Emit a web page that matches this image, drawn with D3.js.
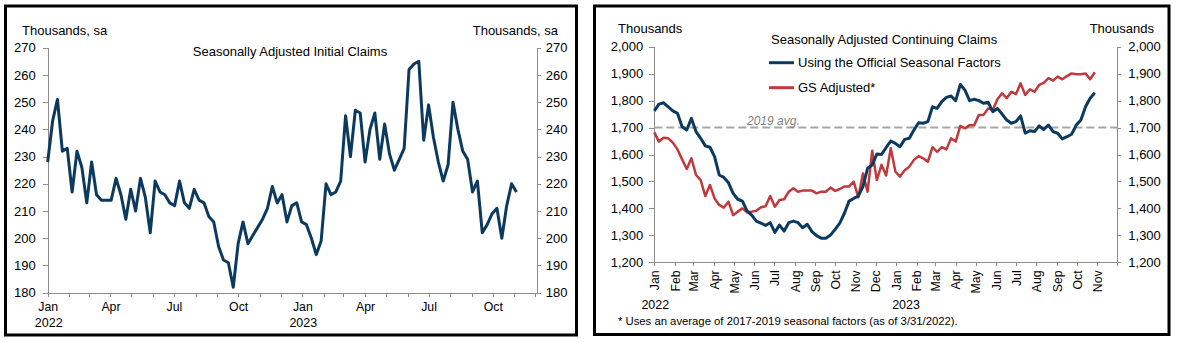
<!DOCTYPE html>
<html>
<head>
<meta charset="utf-8">
<script src="https://cdn.jsdelivr.net/npm/d3@7/dist/d3.min.js"></script>
<style>
  body { margin: 0; background: #fff; }
  svg { display: block; font-family: "Liberation Sans", Arial, sans-serif; }
  .axis path, .axis line { stroke: #8c8c8c; shape-rendering: crispEdges; }
  .axis text { font-size: 13px; fill: #000; font-family: "Liberation Sans", Arial, sans-serif; }
  .x-axis text { font-size: 12.3px; }
  .label { font-size: 13px; fill: #000; }
  .year { font-size: 12.5px; fill: #000; }
</style>
</head>
<body>
<div id="chart"></div>
<script>
(function () {

  // first week in both series (week ending Sat Jan 1, 2022)
  var firstWeek = new Date(2022, 0, 1)

  // initial claims, thousands, sa
  var initialClaims = [228, 243, 251, 232, 233, 217, 232, 226, 213, 228,
    216, 214, 214, 214, 222, 216, 207, 218, 210, 222,
    215, 202, 221, 217, 216, 213, 212, 221, 213, 211,
    218, 214, 213, 208, 206, 197, 192, 191, 182, 198,
    206, 198, 201, 204, 207, 211, 219, 213, 216, 206,
    212, 213, 206, 205, 200, 194, 199, 220, 216, 217,
    221, 245, 230, 247, 246, 228, 240, 246, 229, 242,
    231, 225, 229, 233, 262, 264, 265, 236, 249, 237,
    228, 221, 227, 250, 240, 232, 229, 217, 221, 202,
    205, 209, 211, 200, 212, 220, 217]

  // continuing claims, official seasonal factors
  var contOfficial = [1762, 1787, 1792, 1777, 1762, 1753, 1703, 1691, 1734, 1685,
    1660, 1632, 1627, 1592, 1524, 1515, 1495, 1456, 1434, 1427,
    1391, 1375, 1353, 1345, 1337, 1347, 1311, 1338, 1316, 1347,
    1353, 1347, 1328, 1341, 1314, 1299, 1289, 1289, 1301, 1322,
    1345, 1382, 1427, 1437, 1446, 1481, 1549, 1561, 1602, 1600,
    1626, 1650, 1641, 1629, 1656, 1660, 1691, 1718, 1716, 1722,
    1777, 1771, 1796, 1812, 1817, 1800, 1860, 1839, 1800, 1805,
    1800, 1790, 1794, 1759, 1771, 1750, 1728, 1716, 1722, 1743,
    1679, 1688, 1685, 1706, 1693, 1709, 1685, 1679, 1658, 1666,
    1675, 1709, 1728, 1777, 1809, 1829]

  // continuing claims, GS adjusted
  var contGS = [1682, 1648, 1662, 1660, 1644, 1619, 1582, 1546, 1586, 1524,
    1505, 1446, 1487, 1437, 1413, 1403, 1425, 1375, 1388, 1400,
    1386, 1388, 1391, 1404, 1408, 1446, 1406, 1431, 1434, 1462,
    1475, 1462, 1466, 1466, 1466, 1456, 1462, 1462, 1477, 1465,
    1472, 1481, 1481, 1499, 1441, 1530, 1462, 1614, 1505, 1562,
    1522, 1623, 1536, 1518, 1542, 1555, 1580, 1594, 1586, 1573,
    1627, 1610, 1627, 1619, 1660, 1648, 1706, 1697, 1709, 1709,
    1747, 1747, 1771, 1765, 1805, 1827, 1809, 1833, 1824, 1864,
    1821, 1842, 1833, 1858, 1866, 1883, 1874, 1889, 1879, 1891,
    1901, 1898, 1898, 1901, 1879, 1905]

  var avg2019 = 1700

  var initialTicks = [180, 190, 200, 210, 220, 230, 240, 250, 260, 270]
  var contTicks = [1200, 1300, 1400, 1500, 1600, 1700, 1800, 1900, 2000]
  var monthNames = ["Jan", "Feb", "Mar", "Apr", "May", "Jun", "Jul", "Aug", "Sep", "Oct", "Nov", "Dec"]
  var years = [2022, 2023]

  var navy = "#0c3a5f",
      red = "#c0393b"

  function weekDate(i) {
    return d3.timeDay.offset(firstWeek, 7 * i)
  }

  var svg = d3.select("#chart")
    .append("svg")
    .attr("width", 1177)
    .attr("height", 343)

  // panel frames
  svg.append("rect")
    .attr("x", 5.5).attr("y", 6)
    .attr("width", 571).attr("height", 329)
    .attr("fill", "none").attr("stroke", "#000").attr("stroke-width", 3)

  svg.append("rect")
    .attr("x", 594.5).attr("y", 6)
    .attr("width", 574.5).attr("height", 328.5)
    .attr("fill", "none").attr("stroke", "#000").attr("stroke-width", 3)

  // ---------- left: initial claims ----------
  var xLeft = d3.scaleTime()
    .domain([new Date(2022, 0, 1), new Date(2023, 11, 3)])
    .range([47.7, 536.7])

  var yLeft = d3.scaleLinear()
    .domain([180, 270])
    .range([292.7, 47.7])

  svg.append("g")
    .attr("class", "axis")
    .attr("transform", "translate(47.7,0)")
    .call(d3.axisLeft(yLeft).tickValues(initialTicks).tickSize(5).tickPadding(7).tickSizeOuter(0))

  svg.append("g")
    .attr("class", "axis")
    .attr("transform", "translate(536.7,0)")
    .call(d3.axisRight(yLeft).tickValues(initialTicks).tickSize(4).tickPadding(5).tickSizeOuter(0))

  svg.append("g")
    .attr("class", "axis x-axis")
    .attr("transform", "translate(0,292.7)")
    .call(d3.axisBottom(xLeft)
      .ticks(d3.timeMonth.every(1))
      .tickSize(4)
      .tickPadding(6)
      .tickSizeOuter(0)
      .tickFormat(function(d) {
        return d.getMonth() % 3 == 0 ? monthNames[d.getMonth()] : ""
      }))

  svg.selectAll(".year-left")
    .data(years)
    .enter().append("text")
    .attr("class", "year")
    .attr("x", function(d) { return xLeft(new Date(d, 0, 1)) + 1 })
    .attr("y", 327)
    .attr("text-anchor", "middle")
    .text(function(d) { return d })

  svg.append("path")
    .datum(initialClaims)
    .attr("fill", "none")
    .attr("stroke", navy)
    .attr("stroke-width", 3)
    .attr("stroke-linejoin", "round")
    .attr("d", d3.line()
      .x(function(d, i) { return xLeft(weekDate(i)) })
      .y(function(d) { return yLeft(d) }))

  svg.append("text").attr("class", "label")
    .attr("x", 22).attr("y", 35)
    .text("Thousands,  sa")

  svg.append("text").attr("class", "label")
    .attr("x", 558).attr("y", 35)
    .attr("text-anchor", "end")
    .text("Thousands,  sa")

  svg.append("text").attr("class", "label")
    .attr("x", 290).attr("y", 56)
    .attr("text-anchor", "middle")
    .text("Seasonally Adjusted Initial Claims")

  // ---------- right: continuing claims ----------
  var xRight = d3.scaleTime()
    .domain([new Date(2022, 0, 1), new Date(2023, 11, 1)])
    .range([654.3, 1117.3])

  var yRight = d3.scaleLinear()
    .domain([1200, 2000])
    .range([262.3, 46.7])

  svg.append("g")
    .attr("class", "axis")
    .attr("transform", "translate(654.3,0)")
    .call(d3.axisLeft(yRight).tickValues(contTicks).tickSize(5).tickPadding(6).tickFormat(d3.format(",")).tickSizeOuter(0))

  svg.append("g")
    .attr("class", "axis")
    .attr("transform", "translate(1117.3,0)")
    .call(d3.axisRight(yRight).tickValues(contTicks).tickSize(4).tickPadding(7).tickFormat(d3.format(",")).tickSizeOuter(0))

  var xAxisRight = svg.append("g")
    .attr("class", "axis x-axis")
    .attr("transform", "translate(0,262.3)")
    .call(d3.axisBottom(xRight)
      .ticks(d3.timeMonth.every(1))
      .tickSize(4)
      .tickSizeOuter(0)
      .tickFormat(function(d) {
        return d < xRight.domain()[1] ? monthNames[d.getMonth()] : ""
      }))

  xAxisRight.selectAll("text")
    .attr("transform", "rotate(-90)")
    .attr("text-anchor", "end")
    .attr("x", -8)
    .attr("y", 0)
    .attr("dy", "0.35em")

  svg.selectAll(".year-right")
    .data(years)
    .enter().append("text")
    .attr("class", "year")
    .attr("x", function(d, i) { return xRight(new Date(d, 0, 1)) + (i == 0 ? 1 : 10) })
    .attr("y", 309)
    .attr("text-anchor", "middle")
    .text(function(d) { return d })

  // 2019 average
  svg.append("line")
    .attr("x1", 654.3).attr("x2", 1117.3)
    .attr("y1", yRight(avg2019)).attr("y2", yRight(avg2019))
    .attr("stroke", "#a6a6a6")
    .attr("stroke-width", 2)
    .attr("stroke-dasharray", "8,4")

  svg.append("text")
    .attr("x", 747).attr("y", 125)
    .attr("font-size", "12px")
    .attr("font-style", "italic")
    .attr("fill", "#7f7f7f")
    .text("2019 avg.")

  var contLine = d3.line()
    .x(function(d, i) { return xRight(weekDate(i)) })
    .y(function(d) { return yRight(d) })

  svg.append("path")
    .datum(contGS)
    .attr("fill", "none")
    .attr("stroke", red)
    .attr("stroke-width", 2.5)
    .attr("stroke-linejoin", "round")
    .attr("d", contLine)

  svg.append("path")
    .datum(contOfficial)
    .attr("fill", "none")
    .attr("stroke", navy)
    .attr("stroke-width", 3)
    .attr("stroke-linejoin", "round")
    .attr("d", contLine)

  svg.append("text").attr("class", "label")
    .attr("x", 618).attr("y", 33)
    .text("Thousands")

  svg.append("text").attr("class", "label")
    .attr("x", 1154).attr("y", 33)
    .attr("text-anchor", "end")
    .text("Thousands")

  svg.append("text").attr("class", "label")
    .attr("x", 771).attr("y", 43.5)
    .text("Seasonally Adjusted Continuing Claims")

  // legend
  var legend = [
    { name: "Using the Official Seasonal Factors", color: navy, y: 62.7 },
    { name: "GS Adjusted*", color: red, y: 87.7 }
  ]

  svg.selectAll(".legend-line")
    .data(legend)
    .enter().append("line")
    .attr("x1", 769).attr("x2", 794)
    .attr("y1", function(d) { return d.y }).attr("y2", function(d) { return d.y })
    .attr("stroke", function(d) { return d.color })
    .attr("stroke-width", 3)

  svg.selectAll(".legend-text")
    .data(legend)
    .enter().append("text")
    .attr("class", "label")
    .attr("x", 798)
    .attr("y", function(d) { return d.y + 4.5 })
    .text(function(d) { return d.name })

  svg.append("text")
    .attr("x", 618).attr("y", 325)
    .attr("font-size", "11.3px")
    .text("* Uses an average of 2017-2019 seasonal factors (as of 3/31/2022).")

})()
</script>
</body>
</html>
